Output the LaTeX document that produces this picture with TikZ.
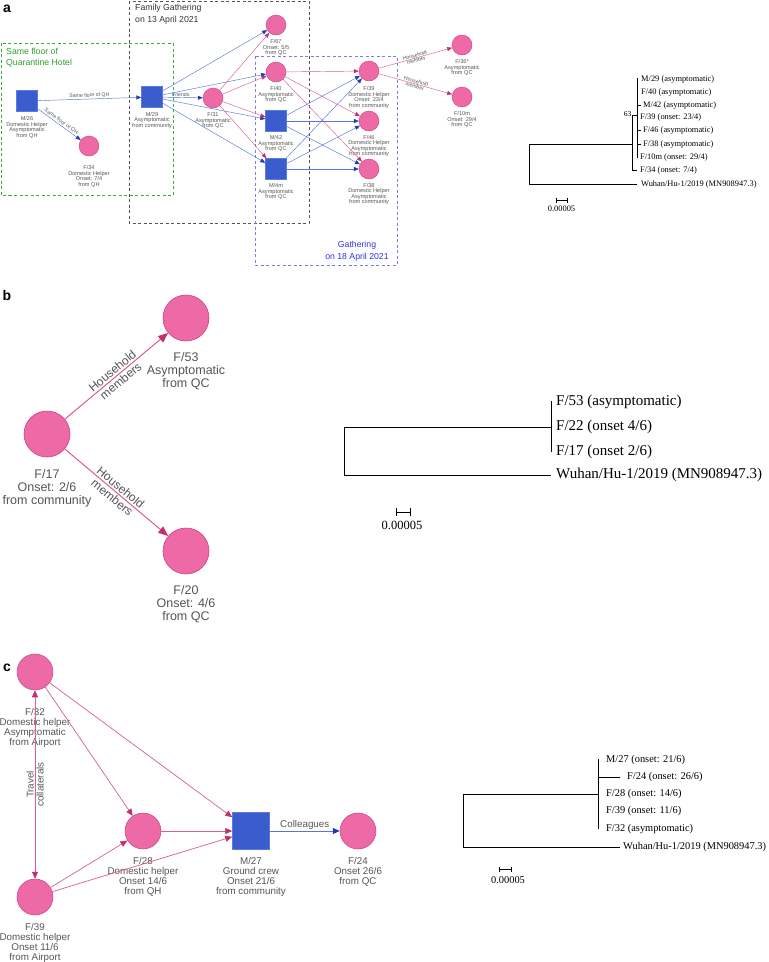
\documentclass[tikz,border=0pt]{standalone}
\usepackage{fontspec}
\setmainfont{Liberation Serif}
\setsansfont{Liberation Sans}
\usetikzlibrary{arrows.meta,positioning}
\definecolor{cPinkFill}{HTML}{EE6AA7}
\definecolor{cPinkDraw}{HTML}{C8407E}
\definecolor{cPinkLine}{HTML}{DC5C94}
\definecolor{cPinkArrow}{HTML}{C2306E}
\definecolor{cBlueFill}{HTML}{3A5CCC}
\definecolor{cBlueDraw}{HTML}{5A7BE0}
\definecolor{cBlueLine}{HTML}{5676D8}
\definecolor{cBlueArrow}{HTML}{1E3CB4}
\definecolor{cGrayText}{HTML}{555555}
\definecolor{cGreenBox}{HTML}{3DAA3D}
\definecolor{cGreenText}{HTML}{2E9E2E}
\definecolor{cBlueBox}{HTML}{7A7AF2}
\definecolor{cBlueText}{HTML}{3030E8}
\definecolor{cGrayBox}{HTML}{555555}
\tikzset{
  pinkA/.style={circle,fill=cPinkFill,draw=cPinkDraw,line width=0.4pt,minimum size=20pt,inner sep=0pt},
  sqA/.style={rectangle,fill=cBlueFill,draw=cBlueDraw,line width=0.4pt,minimum size=21pt,inner sep=0pt},
  lblA/.style={font=\sffamily\fontsize{5.6}{5.5}\selectfont,text=cGrayText,align=center,inner sep=0pt},
  elblA/.style={font=\sffamily\fontsize{5.2}{5.2}\selectfont,text=cGrayText,align=center,inner sep=0.8pt},
  pedgeA/.style={draw=cPinkLine,line width=0.45pt,-{Triangle[length=5pt,width=4pt,color=cPinkArrow]}},
  bedgeA/.style={draw=cBlueLine,line width=0.45pt,-{Triangle[length=5pt,width=4pt,color=cBlueArrow]}},
  pinkB/.style={circle,fill=cPinkFill,draw=cPinkDraw,line width=0.6pt,minimum size=46pt,inner sep=0pt},
  lblB/.style={font=\sffamily\fontsize{12.5}{13}\selectfont,text=cGrayText,align=center,inner sep=0pt},
  pedgeB/.style={draw=cPinkLine,line width=1pt,-{Triangle[length=10pt,width=8pt,color=cPinkArrow]}},
  pinkC/.style={circle,fill=cPinkFill,draw=cPinkDraw,line width=0.5pt,minimum size=36pt,inner sep=0pt},
  sqC/.style={rectangle,fill=cBlueFill,draw=cBlueDraw,line width=0.5pt,minimum size=37pt,inner sep=0pt},
  lblC/.style={font=\sffamily\fontsize{9.8}{10}\selectfont,text=cGrayText,align=center,inner sep=0pt},
  pedgeC/.style={draw=cPinkLine,line width=0.7pt,-{Triangle[length=7pt,width=6pt,color=cPinkArrow]}},
  bedgeC/.style={draw=cBlueLine,line width=0.7pt,-{Triangle[length=7pt,width=6pt,color=cBlueArrow]}},
  treeln/.style={draw=black,line width=0.6pt},
  leafA/.style={font=\fontsize{8.4}{8.4}\selectfont,anchor=west,inner sep=0pt},
  leafB/.style={font=\fontsize{15}{15}\selectfont,anchor=west,inner sep=0pt},
  leafC/.style={font=\fontsize{10.4}{10.4}\selectfont,anchor=west,inner sep=0pt},
  panel/.style={font=\sffamily\bfseries\fontsize{14}{14}\selectfont,inner sep=0pt},
}
\begin{document}
\begin{tikzpicture}[x=1pt,y=-1pt]
\useasboundingbox (0,0) rectangle (769,962);

% ================= panel a =================
\node[panel] (pa) at (7,9) {a};
\draw[cGreenBox,line width=0.8pt,dash pattern=on 3pt off 2.5pt] (1,43) rectangle (173,195);
\draw[cGrayBox,line width=0.8pt,dash pattern=on 3pt off 2.5pt] (129,1) rectangle (309,223);
\draw[cBlueBox,line width=0.8pt,dash pattern=on 3pt off 2.5pt] (255,56) rectangle (397,265);
\node[font=\sffamily\fontsize{8.7}{11}\selectfont,text=cGreenText,align=left,anchor=north west,inner sep=0pt] (tgreen) at (6,48) {Same floor of\\Quarantine Hotel};
\node[font=\sffamily\fontsize{8.7}{12}\selectfont,text=black!80,align=left,anchor=north west,inner sep=0pt] (tfam) at (135,4) {Family Gathering\\on 13 April 2021};
\node[font=\sffamily\fontsize{8.7}{11.5}\selectfont,text=cBlueText,align=center,anchor=north,inner sep=0pt] (tgath) at (357,241) {Gathering\\on 18 April 2021};

\node[sqA] (m26) at (27,101) {};
\node[pinkA] (f34) at (89,146) {};
\node[sqA] (m29) at (152,97) {};
\node[pinkA] (f31) at (213,98) {};
\node[pinkA] (f67) at (276,25) {};
\node[pinkA] (f40) at (276,72) {};
\node[sqA] (m42) at (276,121) {};
\node[sqA] (m4m) at (276,169) {};
\node[pinkA] (f39a) at (369,71) {};
\node[pinkA] (f46) at (369,121) {};
\node[pinkA] (f38) at (369,169) {};
\node[pinkA] (f36) at (462,45) {};
\node[pinkA] (f10m) at (462,97) {};

\node[lblA,below=5pt of m26] (lm26) {M/26\\Domestic Helper\\Asymptomatic\\from QH};
\node[lblA,below=9.5pt of f34] (lf34) {F/34\\Domestic Helper\\Onset: 7/4\\from QH};
\node[lblA,below=4.5pt of m29] (lm29) {M/29\\Asymptomatic\\from community};
\node[lblA,below=4.5pt of f31] (lf31) {F/31\\Asymptomatic\\from QC};
\node[lblA,below=4.5pt of f67] (lf67) {F/67\\Onset: 5/5\\from QC};
\node[lblA,below=4.5pt of f40] (lf40) {F/40\\Asymptomatic\\from QC};
\node[lblA,below=4pt of m42] (lm42) {M/42\\Asymptomatic\\from QC};
\node[lblA,below=4pt of m4m] (lm4m) {M/4m\\Asymptomatic\\from QC};
\node[lblA,below=5.5pt of f39a] (lf39a) {F/39\\Domestic Helper\\Onset: 23/4\\from community};
\node[lblA,below=4pt of f46] (lf46) {F/46\\Domestic Helper\\Asymptomatic\\from community};
\node[lblA,below=4pt of f38] (lf38) {F/38\\Domestic Helper\\Asymptomatic\\from community};
\node[lblA,below=4.5pt of f36] (lf36) {F/36*\\Asymptomatic\\from QC};
\node[lblA,below=4.5pt of f10m] (lf10m) {F/10m\\Onset: 29/4\\from QC};

\draw[bedgeA] (m26) -- node[elblA,midway,above,sloped] (e1) {Same floor of QH} (m29);
\draw[bedgeA] (m26) -- node[elblA,midway,above,sloped] (e2) {Same floor of QH} (f34);
\draw[bedgeA] (m29) -- node[elblA,pos=0.45,above] (e3) {Friends} (f31);
\draw[bedgeA] (m29) -- (f67);
\draw[bedgeA] (m29) -- (f40);
\draw[bedgeA] (m29) -- (m42);
\draw[bedgeA] (m29) -- (m4m);
\draw[pedgeA] (f31) -- (f67);
\draw[pedgeA] (f31) -- (f40);
\draw[pedgeA] (f31) -- (m42);
\draw[pedgeA] (f31) -- (m4m);
\draw[pedgeA] (f40) -- (f39a);
\draw[pedgeA] (f40) -- (f46);
\draw[pedgeA] (f40) -- (f38);
\draw[bedgeA] (m42) -- (f39a);
\draw[bedgeA] (m42) -- (f46);
\draw[bedgeA] (m42) -- (f38);
\draw[bedgeA] (m4m) -- (f39a);
\draw[bedgeA] (m4m) -- (f46);
\draw[bedgeA] (m4m) -- (f38);
\draw[pedgeA] (f39a) -- node[elblA,midway,sloped,inner sep=0pt] (e4) {Household\\member} (f36);
\draw[pedgeA] (f39a) -- node[elblA,midway,sloped,inner sep=0pt] (e5) {Household\\member} (f10m);

% tree a
\draw[treeln] (529,144) -- (529,184) -- (637,184);
\draw[treeln] (529,144) -- (632,144);
\draw[treeln] (632,115) -- (632,170) -- (637,170);
\draw[treeln] (632,115) -- (637,115);
\draw[treeln] (637,78) -- (637,158);
\draw[treeln] (637,105) -- (641,105);
\draw[treeln] (637,130.5) -- (641,130.5);
\draw[treeln] (637,144) -- (641,144);
\node[font=\fontsize{7.5}{7.5}\selectfont,inner sep=0pt,anchor=south east] (b63) at (631.5,117) {63};
\node[leafA] (ta1) at (641,79) {M/29 (asymptomatic)};
\node[leafA] (ta2) at (641,92) {F/40 (asymptomatic)};
\node[leafA] (ta3) at (643,105) {M/42 (asymptomatic)};
\node[leafA] (ta4) at (640,117) {F/39 (onset: 23/4)};
\node[leafA] (ta5) at (643,130.5) {F/46 (asymptomatic)};
\node[leafA] (ta6) at (643,144) {F/38 (asymptomatic)};
\node[leafA] (ta7) at (640,157.5) {F/10m (onset: 29/4)};
\node[leafA] (ta8) at (640,170) {F/34 (onset: 7/4)};
\node[leafA] (ta9) at (641,184) {Wuhan/Hu-1/2019 (MN908947.3)};
\draw[treeln] (556,200) -- (567,200) (556,197.5) -- (556,202.5) (567,197.5) -- (567,202.5);
\node[font=\fontsize{8.4}{8.4}\selectfont,inner sep=0pt] (sa) at (561.5,209) {0.00005};

% ================= panel b =================
\node[panel] (pb) at (7,295) {b};
\node[pinkB] (f53) at (186,318) {};
\node[pinkB] (f17) at (47,434) {};
\node[pinkB] (f20) at (186,551) {};
\node[lblB,below=10.5pt of f53] (lf53) {F/53\\Asymptomatic\\from QC};
\node[lblB,below=11.5pt of f17] (lf17) {F/17\\Onset: 2/6\\from community};
\node[lblB,below=11pt of f20] (lf20) {F/20\\Onset: 4/6\\from QC};
\draw[pedgeB] (f17) -- node[lblB,midway,sloped,font=\sffamily\fontsize{12}{13}\selectfont] (e6) {Household\\members} (f53);
\draw[pedgeB] (f17) -- node[lblB,midway,sloped,font=\sffamily\fontsize{12}{13}\selectfont] (e7) {Household\\members} (f20);

% tree b
\draw[treeln,line width=0.9pt] (344,427) -- (344,475) -- (551,475);
\draw[treeln,line width=0.9pt] (344,427) -- (551,427);
\draw[treeln,line width=0.9pt] (551,401) -- (551,452);
\node[leafB] (tb1) at (556,402) {F/53 (asymptomatic)};
\node[leafB] (tb2) at (556,427) {F/22 (onset 4/6)};
\node[leafB] (tb3) at (556,452) {F/17 (onset 2/6)};
\node[leafB] (tb4) at (556,475) {Wuhan/Hu-1/2019 (MN908947.3)};
\draw[treeln,line width=0.9pt] (396,512) -- (410,512) (396,508) -- (396,516) (410,508) -- (410,516);
\node[font=\fontsize{12.5}{12.5}\selectfont,inner sep=0pt] (sb) at (402,525) {0.00005};

% ================= panel c =================
\node[panel] (pc) at (7,668) {c};
\node[pinkC] (f32c) at (35,672) {};
\node[pinkC] (f39c) at (35,897) {};
\node[pinkC] (f28c) at (143,831) {};
\node[sqC] (m27c) at (251,831) {};
\node[pinkC] (f24c) at (358,831) {};
\node[lblC,below=18pt of f32c] (lf32c) {F/32\\Domestic helper\\Asymptomatic\\from Airport};
\node[lblC,below=7.5pt of f39c] (lf39c) {F/39\\Domestic helper\\Onset 11/6\\from Airport};
\node[lblC,below=7.5pt of f28c] (lf28c) {F/28\\Domestic helper\\Onset 14/6\\from QH};
\node[lblC,below=7.5pt of m27c] (lm27c) {M/27\\Ground crew\\Onset 21/6\\from community};
\node[lblC,below=7.5pt of f24c] (lf24c) {F/24\\Onset 26/6\\from QC};
\draw[pedgeC,{Triangle[length=7pt,width=6pt,color=cPinkArrow]}-{Triangle[length=7pt,width=6pt,color=cPinkArrow]}] (f32c) -- node[lblC,midway,rotate=90] (e8) {Travel\\collaterals} (f39c);
\draw[pedgeC] (f32c) -- (f28c);
\draw[pedgeC] (f32c) -- (m27c);
\draw[pedgeC] (f39c) -- (f28c);
\draw[pedgeC] (f39c) -- (m27c);
\draw[pedgeC] (f28c) -- (m27c);
\draw[bedgeC] (m27c) -- node[lblC,midway,above,inner sep=1pt] (e9) {Colleagues} (f24c);

% tree c
\draw[treeln] (463,794) -- (463,847) -- (620,847);
\draw[treeln] (463,794) -- (598,794);
\draw[treeln] (598,759) -- (598,829);
\draw[treeln] (598,777) -- (620,777);
\node[leafC] (tc1) at (606,760) {M/27 (onset: 21/6)};
\node[leafC] (tc2) at (627,777) {F/24 (onset: 26/6)};
\node[leafC] (tc3) at (606,794) {F/28 (onset: 14/6)};
\node[leafC] (tc4) at (606,811) {F/39 (onset: 11/6)};
\node[leafC] (tc5) at (606,829) {F/32 (asymptomatic)};
\node[leafC] (tc6) at (623,847) {Wuhan/Hu-1/2019 (MN908947.3)};
\draw[treeln] (499,869) -- (511,869) (499,866.5) -- (499,871.5) (511,866.5) -- (511,871.5);
\node[font=\fontsize{10.4}{10.4}\selectfont,inner sep=0pt] (sc) at (508,880) {0.00005};
\end{tikzpicture}
\end{document}
